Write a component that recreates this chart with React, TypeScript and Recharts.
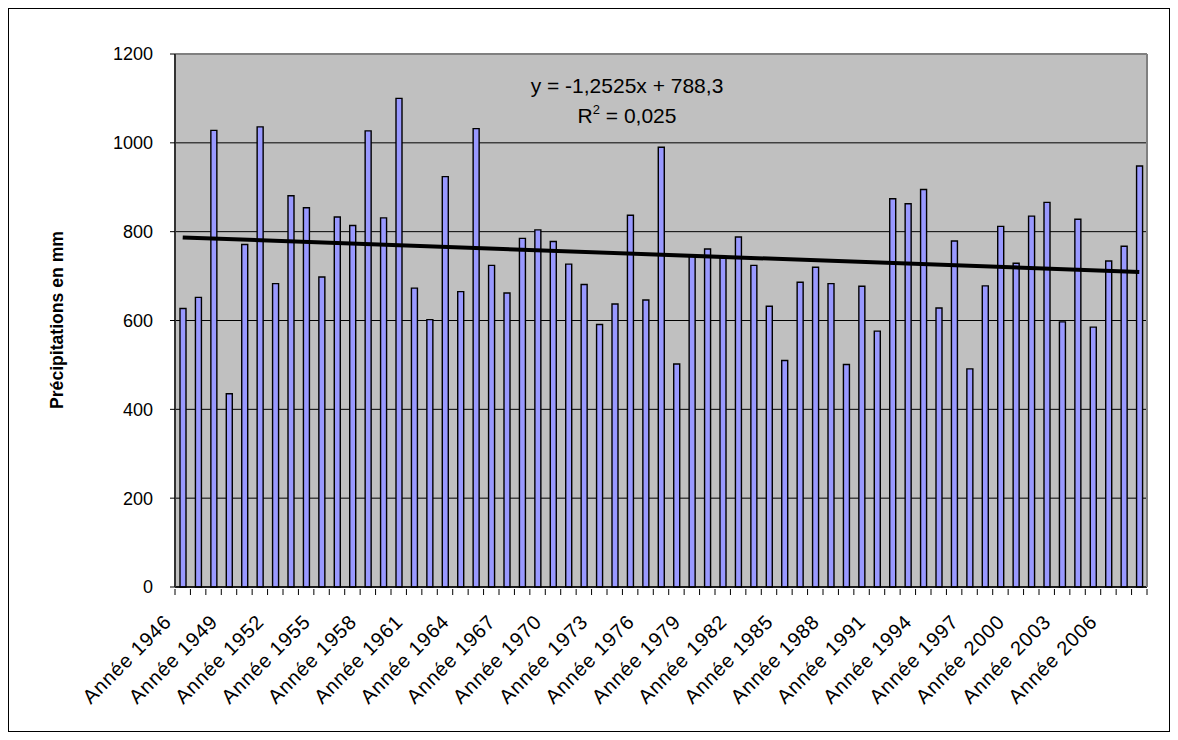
import { BarChart, Bar, Line, XAxis, YAxis, CartesianGrid, ReferenceLine, Label } from 'recharts'

// rainfall per year
const years = [
  1946, 1947, 1948, 1949, 1950, 1951, 1952, 1953, 1954, 1955, 1956, 1957, 1958, 1959, 1960, 1961,
  1962, 1963, 1964, 1965, 1966, 1967, 1968, 1969, 1970, 1971, 1972, 1973, 1974, 1975, 1976, 1977,
  1978, 1979, 1980, 1981, 1982, 1983, 1984, 1985, 1986, 1987, 1988, 1989, 1990, 1991, 1992, 1993,
  1994, 1995, 1996, 1997, 1998, 1999, 2000, 2001, 2002, 2003, 2004, 2005, 2006, 2007, 2008,
]

const precipitation = [
  627, 652, 1028, 435, 771, 1036, 683, 881, 854, 698, 833, 814, 1027, 831, 1100, 673,
  602, 924, 665, 1032, 724, 662, 785, 804, 778, 727, 681, 591, 637, 837, 646, 990,
  502, 746, 761, 744, 788, 724, 632, 510, 686, 720, 683, 501, 677, 576, 874, 863,
  895, 628, 779, 491, 678, 812, 729, 835, 866, 597, 828, 585, 734, 767, 948,
]

// linear trend end points (first and last year)
const trendStart = 787
const trendEnd = 709.4

const yTicks = [0, 200, 400, 600, 800, 1000, 1200]
const equationText = 'y = -1,2525x + 788,3'
const r2Value = '0,025'
const yTitle = 'Précipitations en mm'

const FONT = '"Liberation Sans", Arial, sans-serif'
const PLOT_W = 972
const STEP = PLOT_W / years.length

const data = years.map((y, i) => ({
  label: `Année ${y}`,
  value: precipitation[i],
  trend: i === 0 ? trendStart : i === years.length - 1 ? trendEnd : null,
}))

function YearTick(props: any) {
  const { x, y, index, payload } = props
  const half = STEP / 2
  const showLabel = index % 3 === 0
  const last = index === years.length - 1
  const tx = x - 10
  const ty = y + 34
  return (
    <g>
      <line x1={x - half} x2={x - half} y1={y} y2={y + 6} stroke="#000" />
      {last && <line x1={x + half} x2={x + half} y1={y} y2={y + 6} stroke="#000" />}
      {showLabel && (
        <text
          x={tx}
          y={ty}
          transform={`rotate(-45 ${tx} ${ty})`}
          textAnchor="end"
          fontSize={20}
          letterSpacing={0.8}
          fontFamily={FONT}
          fill="#000"
        >
          {payload.value}
        </text>
      )}
    </g>
  )
}

export default function App() {
  return (
    <div style={{ width: 1162, height: 724, border: '1px solid #000', boxSizing: 'border-box', background: '#fff' }}>
      <BarChart width={1160} height={722} data={data} margin={{ top: 45, right: 0, left: 0, bottom: 0 }}>
        <CartesianGrid fill="#C0C0C0" stroke="#000" vertical={false} />
        <XAxis
          dataKey="label"
          interval={0}
          height={144}
          tickSize={0}
          tickLine={false}
          axisLine={{ stroke: '#000', strokeWidth: 1.5 }}
          tick={<YearTick />}
        />
        <YAxis
          domain={[0, 1200]}
          ticks={yTicks}
          width={166}
          tickSize={5}
          tickMargin={17}
          axisLine={{ stroke: '#333', strokeWidth: 2 }}
          tickLine={{ stroke: '#000' }}
          tick={{ fontSize: 18, fontFamily: FONT, fill: '#000' }}
        >
          <Label
            content={() => (
              <text
                x={54}
                y={311}
                transform="rotate(-90 54 311)"
                textAnchor="middle"
                fontSize={17.6}
                fontWeight="bold"
                fontFamily={FONT}
                fill="#000"
              >
                {yTitle}
              </text>
            )}
          />
        </YAxis>
        <YAxis yAxisId="r" orientation="right" width={22} tick={false} tickLine={false} axisLine={{ stroke: '#808080', strokeWidth: 2 }} />
        <ReferenceLine y={1200} stroke="#808080" strokeWidth={2} />
        <Bar dataKey="value" fill="#9999FF" stroke="#000" strokeWidth={1.4} barSize={6} isAnimationActive={false} />
        <Line dataKey="trend" stroke="#000" strokeWidth={4} dot={false} connectNulls isAnimationActive={false} />
        <text x={618} y={83.5} textAnchor="middle" fontSize={21} fontFamily={FONT} fill="#000">
          {equationText}
        </text>
        <text x={618} y={113.5} textAnchor="middle" fontSize={21} fontFamily={FONT} fill="#000">
          R
          <tspan dy={-9} fontSize={13}>2</tspan>
          <tspan dy={9}>{` = ${r2Value}`}</tspan>
        </text>
      </BarChart>
    </div>
  )
}
